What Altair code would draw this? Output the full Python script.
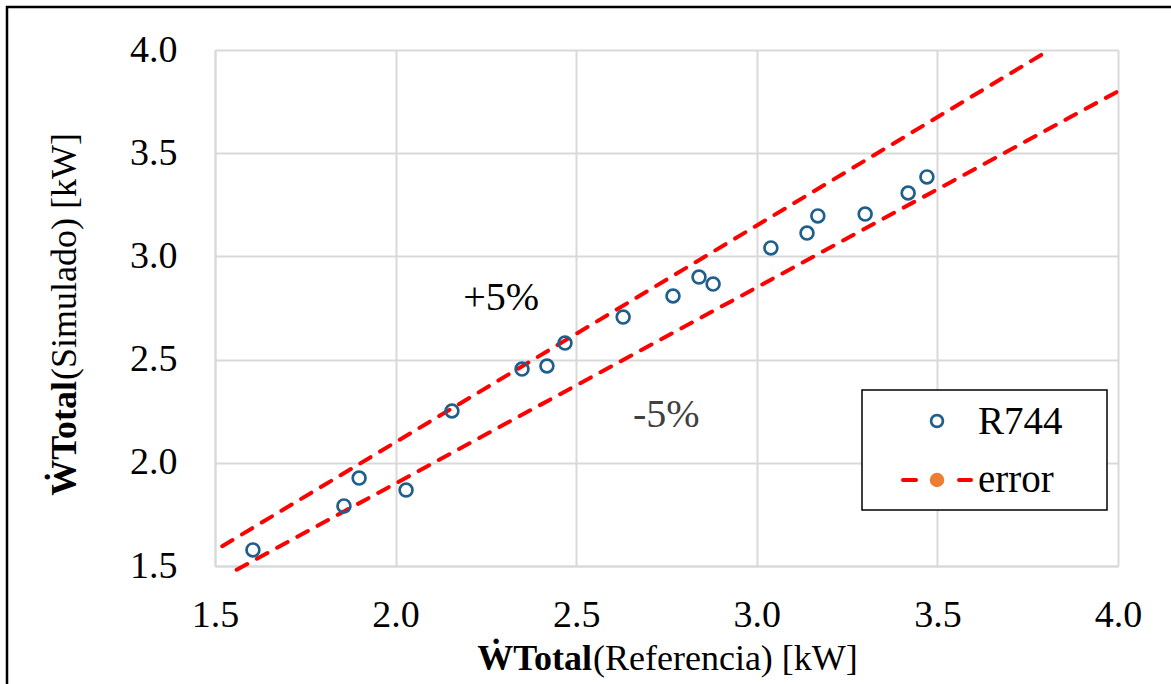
import altair as alt
import pandas as pd

# Data
ref_x = [1.605, 1.857, 1.899, 2.029, 2.156, 2.350, 2.419, 2.469, 2.630,
         2.768, 2.840, 2.879, 3.039, 3.139, 3.169, 3.300, 3.419, 3.471]
sim_y = [1.578, 1.791, 1.926, 1.868, 2.251, 2.454, 2.469, 2.580, 2.706,
         2.808, 2.900, 2.866, 3.041, 3.113, 3.196, 3.205, 3.307, 3.385]

plus_x = [1.52, 3.81]
plus_y = [1.596, 4.0]
minus_x = [1.56, 4.0]
minus_y = [1.482, 3.80]

ticks = [1.5, 2.0, 2.5, 3.0, 3.5, 4.0]

FONT = "Liberation Serif"
W, H = 903, 516

pts = pd.DataFrame({"x": ref_x, "y": sim_y})
lines = pd.DataFrame({
    "x": plus_x + minus_x,
    "y": plus_y + minus_y,
    "s": ["plus", "plus", "minus", "minus"],
})
notes = pd.DataFrame({"x": [2.187, 2.657], "y": [2.740, 2.173],
                      "t": ["+5%", "-5%"], "c": ["#000000", "#404040"]})
one = pd.DataFrame({"a": [0]})

xs = alt.Scale(domain=[1.5, 4.0], nice=False, zero=False)
ys = alt.Scale(domain=[1.5, 4.0], nice=False, zero=False)

xaxis = alt.Axis(values=ticks, format=".1f", title=None, ticks=False,
                 labelFont=FONT, labelFontSize=38, labelColor="#000000",
                 labelPadding=30, labelFlush=False, labelOverlap=False,
                 domainColor="#d9d9d9", domainWidth=2,
                 gridColor="#d9d9d9", gridWidth=2)
yaxis = alt.Axis(values=ticks, format=".1f", title=None, ticks=False,
                 labelFont=FONT, labelFontSize=38, labelColor="#000000",
                 labelPadding=38, labelFlush=False, labelOverlap=False,
                 domainColor="#d9d9d9", domainWidth=2,
                 gridColor="#d9d9d9", gridWidth=2)

err = alt.Chart(lines).mark_line(color="#FF0000", strokeWidth=4,
                                 strokeDash=[12, 11], strokeCap="round").encode(
    x=alt.X("x:Q", scale=xs, axis=xaxis),
    y=alt.Y("y:Q", scale=ys, axis=yaxis),
    detail="s:N",
)

points = alt.Chart(pts).mark_point(shape="circle", filled=False, size=165,
                                   strokeWidth=2.7, color="#1F5F8B", opacity=1).encode(
    x=alt.X("x:Q", scale=xs),
    y=alt.Y("y:Q", scale=ys),
)

note_text = alt.Chart(notes).mark_text(font=FONT, fontSize=40, align="left",
                                       baseline="alphabetic").encode(
    x=alt.X("x:Q", scale=xs),
    y=alt.Y("y:Q", scale=ys),
    text="t:N",
    color=alt.Color("c:N", scale=None),
)

def txt(text, x, y, bold=False, align="left", angle=0, size=36, color="#000000"):
    return alt.Chart(one).mark_text(
        text=text, font=FONT, fontSize=size,
        fontWeight="bold" if bold else "normal",
        align=align, baseline="alphabetic", angle=angle, color=color,
    ).encode(x=alt.value(x), y=alt.value(y))

# axis titles (bold + normal pieces)
xt_b = txt("\u1E86Total", 377, 620, bold=True, align="right")
xt_n = txt("(Referencia) [kW]", 378, 620, align="left")
yt_b = txt("\u1E86Total", -139, 331, bold=True, align="right", angle=270)
yt_n = txt("(Simulado) [kW]", -139, 330, align="left", angle=270)

# legend
leg_box = alt.Chart(one).mark_rect(fill="white", stroke="#000000", strokeWidth=1.5).encode(
    x=alt.value(647), x2=alt.value(892), y=alt.value(340), y2=alt.value(460))
leg_pt = alt.Chart(one).mark_point(shape="circle", filled=False, size=140,
                                   strokeWidth=2.7, color="#1F5F8B", opacity=1).encode(
    x=alt.value(722), y=alt.value(371))
leg_d1 = alt.Chart(one).mark_rule(color="#FF0000", strokeWidth=4, strokeCap="round").encode(
    x=alt.value(688), x2=alt.value(701), y=alt.value(430))
leg_d2 = alt.Chart(one).mark_rule(color="#FF0000", strokeWidth=4, strokeCap="round").encode(
    x=alt.value(744), x2=alt.value(756), y=alt.value(430))
leg_dot = alt.Chart(one).mark_point(shape="circle", filled=True, size=210,
                                    color="#ED7D31", opacity=1).encode(
    x=alt.value(722), y=alt.value(430))
leg_t1 = txt("R744", 763, 384, size=39)
leg_t2 = txt("error", 763, 442, size=39)

border = alt.Chart(one).mark_rect(fill="white", fillOpacity=0, stroke="#000000",
                                  strokeWidth=2.5).encode(
    x=alt.value(-208), x2=alt.value(1000), y=alt.value(-43), y2=alt.value(700))

chart = alt.layer(
    err, points, note_text, xt_b, xt_n, yt_b, yt_n,
    leg_box, leg_pt, leg_d1, leg_d2, leg_dot, leg_t1, leg_t2, border,
).properties(
    width=W, height=H,
    autosize=alt.AutoSizeParams(type="none"),
    padding={"left": 215, "top": 50, "right": 53, "bottom": 118},
).configure_view(stroke=None).configure(background="white")

chart.save("out.html", embed_options={"renderer": "svg", "actions": False})
